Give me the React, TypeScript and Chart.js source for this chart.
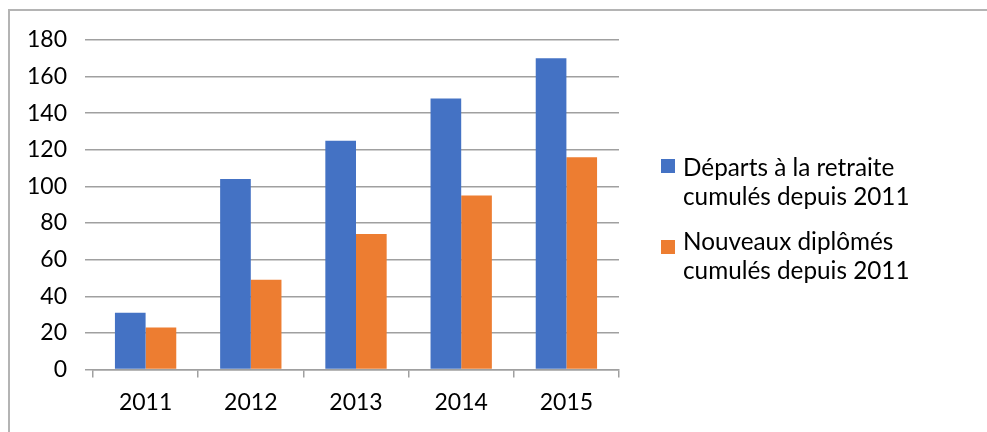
import React, { useEffect, useRef } from "react";
import { Chart, registerables } from "chart.js";

Chart.register(...registerables);

const categories = ["2011", "2012", "2013", "2014", "2015"];
const departs = [31, 104, 125, 148, 170];
const diplomes = [23, 49, 74, 95, 116];
const seriesLabels = [
  ["Départs à la retraite", "cumulés depuis 2011"],
  ["Nouveaux diplômés", "cumulés depuis 2011"],
];
const seriesColors = ["#4472C4", "#ED7D31"];
const yTicks = [0, 20, 40, 60, 80, 100, 120, 140, 160, 180];

const FONT = "Lato, 'Noto Sans', sans-serif";
const FONT_SIZE = 23;
const LEGEND_FONT_SIZE = 24.3;

const legendPlugin = {
  id: "sideLegend",
  afterDraw(chart: any) {
    const ctx = chart.ctx;
    const area = chart.chartArea;
    const baselines = [176, 250];
    const boxTops = [159, 240];
    const lineH = 28.5;
    ctx.save();
    ctx.font = `${LEGEND_FONT_SIZE}px ${FONT}`;
    ctx.textBaseline = "alphabetic";
    ctx.textAlign = "left";
    chart.data.datasets.forEach((ds: any, i: number) => {
      const bx = area.right + 42;
      ctx.fillStyle = ds.backgroundColor;
      ctx.fillRect(bx, boxTops[i], 14, 14);
      ctx.fillStyle = "#000000";
      const lines: string[] = ds.legendLines;
      lines.forEach((t, j) => {
        ctx.fillText(t, bx + 22, baselines[i] + j * lineH);
      });
    });
    ctx.restore();
  },
};

export default function App() {
  const ref = useRef<HTMLCanvasElement | null>(null);
  useEffect(() => {
    if (!ref.current) return;
    const chart = new Chart(ref.current, {
      type: "bar",
      data: {
        labels: categories,
        datasets: [
          {
            label: seriesLabels[0].join(" "),
            legendLines: seriesLabels[0],
            data: departs,
            backgroundColor: seriesColors[0],
            categoryPercentage: 0.583,
            barPercentage: 1,
          } as any,
          {
            label: seriesLabels[1].join(" "),
            legendLines: seriesLabels[1],
            data: diplomes,
            backgroundColor: seriesColors[1],
            categoryPercentage: 0.583,
            barPercentage: 1,
          } as any,
        ],
      },
      options: {
        animation: false,
        responsive: false,
        maintainAspectRatio: false,
        layout: { padding: { left: 10, top: 40, right: 368, bottom: 0 } },
        plugins: { legend: { display: false }, tooltip: { enabled: false } },
        scales: {
          x: {
            grid: {
              display: true,
              drawOnChartArea: false,
              drawTicks: true,
              tickLength: 8,
              color: "#a0a0a0",
              lineWidth: 1.5,
              offset: true,
            },
            border: { display: true, color: "#a0a0a0", width: 1.5 },
            ticks: {
              color: "#000000",
              font: { family: FONT, size: FONT_SIZE },
              padding: 11,
              maxRotation: 0,
            },
            afterFit: (s: any) => {
              s.height = 62.5;
            },
          },
          y: {
            min: 0,
            max: 180,
            afterBuildTicks: (s: any) => {
              s.ticks = yTicks.map((v) => ({ value: v }));
            },
            grid: {
              color: "#a0a0a0",
              lineWidth: 1.5,
              drawTicks: true,
              tickLength: 8,
            },
            border: { display: false },
            ticks: {
              color: "#000000",
              font: { family: FONT, size: FONT_SIZE },
              padding: 18,
            },
            afterFit: (s: any) => {
              s.width = 83;
            },
          },
        },
      },
      plugins: [legendPlugin],
    } as any);
    return () => chart.destroy();
  }, []);

  return (
    <div
      style={{
        position: "fixed",
        left: 0,
        top: 0,
        width: 987,
        height: 432,
        overflow: "hidden",
        background: "#ffffff",
      }}
    >
      <div
        style={{
          position: "absolute",
          left: 8,
          top: 9,
          width: 1200,
          height: 800,
          borderTop: "2px solid #b4b4b4",
          borderLeft: "2px solid #b4b4b4",
        }}
      />
      <canvas
        ref={ref}
        width={987}
        height={432}
        style={{ position: "absolute", left: 0, top: 0, width: 987, height: 432 }}
      />
    </div>
  );
}
